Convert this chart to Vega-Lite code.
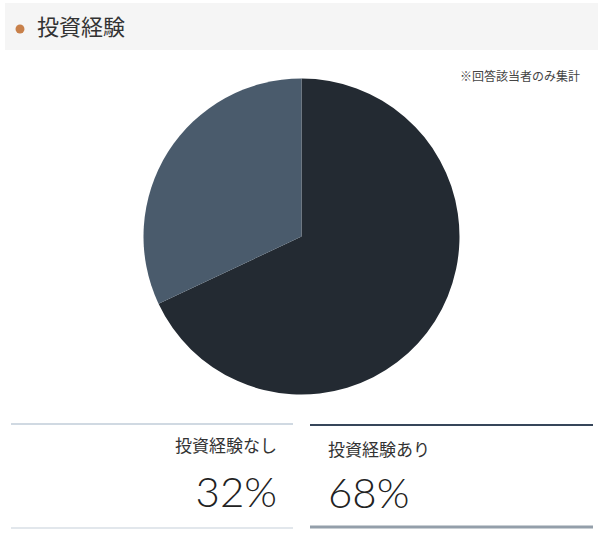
{
  "$schema": "https://vega.github.io/schema/vega-lite/v6.json",
  "padding": {"left": 5, "top": 3, "right": 0, "bottom": 0},
  "background": "white",
  "spacing": 0,
  "datasets": {
    "answers": [
      {"answer": "投資経験あり", "percent": 68},
      {"answer": "投資経験なし", "percent": 32}
    ]
  },
  "vconcat": [
    {
      "width": 593,
      "height": 47,
      "view": {"fill": "#f5f5f5", "stroke": null},
      "data": {"values": [{"heading": "投資経験"}]},
      "layer": [
        {
          "mark": {"type": "point", "filled": true, "size": 80, "color": "#c8804a", "opacity": 1},
          "encoding": {"x": {"value": 15}, "y": {"value": 26}}
        },
        {
          "mark": {"type": "text", "align": "left", "baseline": "middle", "font": "Noto Sans CJK JP", "fontSize": 22, "color": "#333333"},
          "encoding": {
            "x": {"value": 32},
            "y": {"value": 25},
            "text": {"field": "heading", "type": "nominal"}
          }
        }
      ]
    },
    {
      "width": 593,
      "height": 373,
      "title": {
        "text": "※回答該当者のみ集計",
        "anchor": "end",
        "orient": "top",
        "baseline": "middle",
        "offset": -39,
        "dx": -18,
        "font": "Noto Sans CJK JP",
        "fontSize": 12,
        "fontWeight": "normal",
        "color": "#444444"
      },
      "data": {"name": "answers"},
      "mark": {"type": "arc", "radius": 158},
      "encoding": {
        "theta": {"field": "percent", "type": "quantitative", "stack": true},
        "order": {"field": "percent", "sort": "descending"},
        "color": {
          "field": "answer",
          "type": "nominal",
          "legend": null,
          "scale": {"domain": ["投資経験あり", "投資経験なし"], "range": ["#232a32", "#4a5b6c"]}
        }
      }
    },
    {
      "spacing": 14,
      "hconcat": [
        {
          "width": 288,
          "height": 106,
          "data": {"name": "answers"},
          "transform": [
            {"filter": "datum.answer === '投資経験なし'"},
            {"calculate": "datum.percent + '%'", "as": "share"}
          ],
          "layer": [
            {
              "mark": {"type": "rule", "strokeWidth": 2, "color": "#d0d9e2"},
              "encoding": {"x": {"value": 6}, "x2": {"value": "width"}, "y": {"value": 1}}
            },
            {
              "mark": {"type": "rule", "strokeWidth": 2, "color": "#e2e7ec"},
              "encoding": {"x": {"value": 6}, "x2": {"value": "width"}, "y": {"value": 105}}
            },
            {
              "mark": {"type": "text", "align": "right", "baseline": "middle", "dx": -16, "font": "Noto Sans CJK JP", "fontSize": 17, "color": "#333333"},
              "encoding": {
                "x": {"value": "width"},
                "y": {"value": 24},
                "text": {"field": "answer", "type": "nominal"}
              }
            },
            {
              "mark": {"type": "text", "align": "right", "baseline": "alphabetic", "dx": -16, "font": "Lato", "fontWeight": 300, "fontSize": 42, "color": "#222222"},
              "encoding": {
                "x": {"value": "width"},
                "y": {"value": 84},
                "text": {"field": "share", "type": "nominal"}
              }
            }
          ]
        },
        {
          "width": 283,
          "height": 106,
          "data": {"name": "answers"},
          "transform": [
            {"filter": "datum.answer === '投資経験あり'"},
            {"calculate": "datum.percent + '%'", "as": "share"}
          ],
          "layer": [
            {
              "mark": {"type": "rule", "strokeWidth": 2, "color": "#36465a"},
              "encoding": {"x": {"value": 0}, "x2": {"value": "width"}, "y": {"value": 2}}
            },
            {
              "mark": {"type": "rule", "strokeWidth": 3, "color": "#949faa"},
              "encoding": {"x": {"value": 0}, "x2": {"value": "width"}, "y": {"value": 104}}
            },
            {
              "mark": {"type": "text", "align": "left", "baseline": "middle", "dx": 18, "font": "Noto Sans CJK JP", "fontSize": 17, "color": "#333333"},
              "encoding": {
                "x": {"value": 0},
                "y": {"value": 28},
                "text": {"field": "answer", "type": "nominal"}
              }
            },
            {
              "mark": {"type": "text", "align": "left", "baseline": "alphabetic", "dx": 18, "font": "Lato", "fontWeight": 300, "fontSize": 42, "color": "#222222"},
              "encoding": {
                "x": {"value": 0},
                "y": {"value": 85},
                "text": {"field": "share", "type": "nominal"}
              }
            }
          ]
        }
      ]
    }
  ],
  "config": {
    "view": {"stroke": null}
  }
}
